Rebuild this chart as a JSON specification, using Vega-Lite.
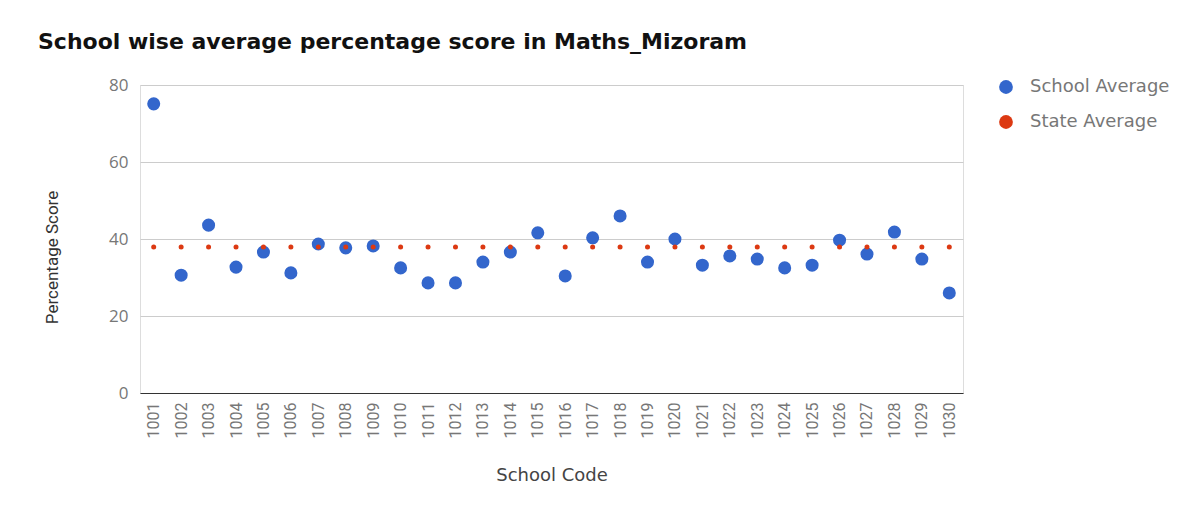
{
  "$schema": "https://vega.github.io/schema/vega-lite/v6.json",
  "autosize": {"type": "none"},
  "width": 823,
  "height": 308,
  "padding": {"left": 140, "top": 85, "right": 234, "bottom": 119},
  "background": "white",
  "title": {
    "text": "School wise average percentage score in Maths_Mizoram",
    "anchor": "start",
    "frame": "group",
    "dx": -102,
    "offset": 22,
    "font": "DejaVu Sans",
    "fontSize": 22,
    "fontWeight": "bold",
    "color": "#111111"
  },
  "data": {
    "values": [
      {"school": "1001", "school_avg": 75.1, "state_avg": 37.9},
      {"school": "1002", "school_avg": 30.6, "state_avg": 37.9},
      {"school": "1003", "school_avg": 43.6, "state_avg": 37.9},
      {"school": "1004", "school_avg": 32.7, "state_avg": 37.9},
      {"school": "1005", "school_avg": 36.6, "state_avg": 37.9},
      {"school": "1006", "school_avg": 31.2, "state_avg": 37.9},
      {"school": "1007", "school_avg": 38.7, "state_avg": 37.9},
      {"school": "1008", "school_avg": 37.7, "state_avg": 37.9},
      {"school": "1009", "school_avg": 38.2, "state_avg": 37.9},
      {"school": "1010", "school_avg": 32.5, "state_avg": 37.9},
      {"school": "1011", "school_avg": 28.6, "state_avg": 37.9},
      {"school": "1012", "school_avg": 28.6, "state_avg": 37.9},
      {"school": "1013", "school_avg": 34.0, "state_avg": 37.9},
      {"school": "1014", "school_avg": 36.6, "state_avg": 37.9},
      {"school": "1015", "school_avg": 41.6, "state_avg": 37.9},
      {"school": "1016", "school_avg": 30.4, "state_avg": 37.9},
      {"school": "1017", "school_avg": 40.3, "state_avg": 37.9},
      {"school": "1018", "school_avg": 46.0, "state_avg": 37.9},
      {"school": "1019", "school_avg": 34.0, "state_avg": 37.9},
      {"school": "1020", "school_avg": 40.0, "state_avg": 37.9},
      {"school": "1021", "school_avg": 33.2, "state_avg": 37.9},
      {"school": "1022", "school_avg": 35.6, "state_avg": 37.9},
      {"school": "1023", "school_avg": 34.8, "state_avg": 37.9},
      {"school": "1024", "school_avg": 32.5, "state_avg": 37.9},
      {"school": "1025", "school_avg": 33.2, "state_avg": 37.9},
      {"school": "1026", "school_avg": 39.7, "state_avg": 37.9},
      {"school": "1027", "school_avg": 36.1, "state_avg": 37.9},
      {"school": "1028", "school_avg": 41.8, "state_avg": 37.9},
      {"school": "1029", "school_avg": 34.8, "state_avg": 37.9},
      {"school": "1030", "school_avg": 26.0, "state_avg": 37.9}
    ]
  },
  "encoding": {
    "x": {
      "field": "school",
      "type": "nominal",
      "title": "School Code",
      "scale": {"paddingInner": 0, "paddingOuter": 0},
      "axis": {
        "labelAngle": 270,
        "labelPadding": 9,
        "ticks": false,
        "domain": true,
        "domainColor": "#333333",
        "domainWidth": 1,
        "grid": false,
        "labelFont": "Roboto",
        "labelFontSize": 16,
        "labelColor": "#777777",
        "titleFont": "DejaVu Sans",
        "titleFontSize": 18,
        "titleFontWeight": "normal",
        "titleColor": "#444444",
        "titlePadding": 29
      }
    }
  },
  "layer": [
    {
      "mark": {"type": "point", "filled": true, "opacity": 1, "size": 170, "strokeWidth": 0},
      "encoding": {
        "y": {
          "field": "school_avg",
          "type": "quantitative",
          "title": "Percentage Score",
          "scale": {"domain": [0, 80], "nice": false},
          "axis": {
            "values": [0, 20, 40, 60, 80],
            "ticks": false,
            "domain": false,
            "grid": true,
            "gridColor": "#cccccc",
            "labelPadding": 12,
            "labelFont": "Open Sans",
            "labelFontSize": 17,
            "labelColor": "#777777",
            "titleFont": "Roboto",
            "titleFontSize": 17,
            "titleFontWeight": "normal",
            "titleColor": "#333333",
            "titleX": -88,
            "titleY": 172,
            "titleBaseline": "middle"
          }
        },
        "color": {
          "datum": "School Average",
          "type": "nominal",
          "scale": {"domain": ["School Average", "State Average"], "range": ["#3366cc", "#dc3912"]},
          "legend": {
            "title": null,
            "orient": "none",
            "legendX": 857,
            "legendY": -7,
            "symbolType": "circle",
            "symbolSize": 190,
            "symbolStrokeWidth": 0,
            "symbolOpacity": 1,
            "labelFont": "DejaVu Sans",
            "labelFontSize": 18,
            "labelColor": "#777777",
            "labelOffset": 15,
            "rowPadding": 17
          }
        }
      }
    },
    {
      "mark": {"type": "point", "filled": true, "opacity": 1, "size": 25, "strokeWidth": 0},
      "encoding": {
        "y": {"field": "state_avg", "type": "quantitative"},
        "color": {"datum": "State Average", "type": "nominal"}
      }
    }
  ]
}
